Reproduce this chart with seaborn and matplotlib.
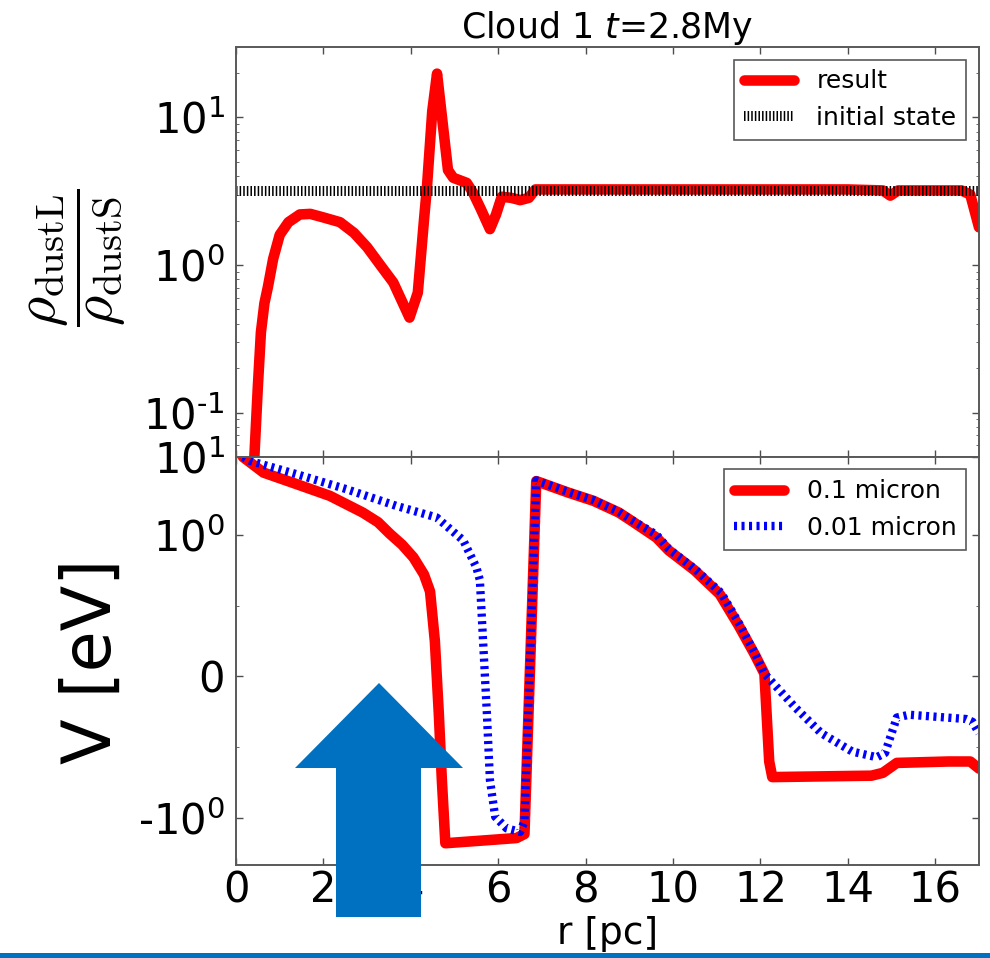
import numpy as np
import pandas as pd
import matplotlib
matplotlib.use("Agg")
import matplotlib.pyplot as plt
import seaborn as sns
from matplotlib.patches import Polygon, Rectangle
from matplotlib.ticker import (FixedLocator, FixedFormatter, LogLocator,
                               NullFormatter)
from matplotlib.mathtext import MathTextParser

# ---- dust ratio profile (top panel) ----
r_ratio = [0.42, 0.5, 0.57, 0.65, 0.73, 0.85, 1.0, 1.2, 1.46, 1.7, 2.0, 2.38,
           2.7, 3.0, 3.3, 3.6, 3.97, 4.16, 4.3, 4.37, 4.49, 4.6, 4.85, 4.97,
           5.28, 5.42, 5.6, 5.81, 5.95, 6.08, 6.3, 6.5, 6.7, 6.85, 8.0, 10.0,
           12.0, 14.0, 14.8, 14.97, 15.15, 16.0, 16.6, 16.8, 17.0]
ratio = [0.05, 0.15, 0.35, 0.55, 0.71, 1.1, 1.6, 1.95, 2.2, 2.22, 2.1, 1.95,
         1.65, 1.32, 1.0, 0.76, 0.44, 0.65, 2.0, 3.4, 11.0, 19.8, 4.4, 3.9,
         3.6, 3.1, 2.4, 1.75, 2.2, 2.9, 2.85, 2.75, 2.85, 3.25, 3.25, 3.25,
         3.25, 3.25, 3.2, 2.95, 3.2, 3.2, 3.2, 3.0, 1.8]
r_init = [0.0, 17.0]
ratio_init = [3.16, 3.16]

# ---- potential profiles (bottom panel) ----
r_large = [0.16, 0.63, 1.39, 2.15, 2.9, 3.25, 3.52, 3.8, 4.06, 4.3, 4.44,
           4.55, 4.64, 4.71, 4.79, 5.58, 6.42, 6.6, 6.87, 7.6, 8.18, 8.76,
           9.05, 9.62, 9.9, 10.49, 11.07, 11.5, 11.86, 12.09, 12.2, 12.27,
           14.54, 14.8, 15.12, 16.3, 16.8, 17.0]
v_large = [10.0, 6.3, 4.47, 3.16, 1.93, 1.45, 1.03, 0.93, 0.84, 0.72, 0.6,
           0.25, -0.26, -0.73, -2.1, -1.95, -1.8, -1.6, 4.9, 3.49, 2.73,
           1.93, 1.51, 0.98, 0.89, 0.75, 0.58, 0.36, 0.16, 0.02, -0.6, -0.71,
           -0.70, -0.68, -0.61, -0.60, -0.6, -0.65]
r_small = [0.16, 0.32, 1.39, 2.53, 3.67, 4.59, 5.2, 5.5, 5.58, 5.66, 5.74,
           5.81, 5.93, 6.19, 6.5, 6.6, 6.87, 7.6, 8.18, 8.76, 9.05, 9.62,
           9.9, 10.49, 11.1, 11.5, 11.86, 12.09, 12.8, 13.39, 14.1, 14.66,
           14.85, 15.12, 15.4, 16.7, 16.85, 17.0]
v_small = [10.0, 8.9, 6.0, 3.85, 2.35, 1.67, 0.96, 0.77, 0.68, 0.21, -0.26,
           -0.73, -0.99, -1.35, -1.5, -1.1, 5.0, 3.55, 2.78, 1.97, 1.55, 1.0,
           0.9, 0.76, 0.59, 0.38, 0.17, 0.02, -0.22, -0.40, -0.53, -0.57,
           -0.54, -0.29, -0.27, -0.30, -0.32, -0.40]

x_ticks = [0, 2, 4, 6, 8, 10, 12, 14, 16]

sns.set_style("ticks")
plt.rcParams.update({
    "font.family": ["DejaVu Sans"],
    "mathtext.fontset": "dejavusans",
    "text.color": "black", "axes.labelcolor": "black",
    "lines.scale_dashes": False,
    "xtick.direction": "in", "ytick.direction": "in",
    "xtick.top": True, "ytick.right": True,
    "xtick.major.size": 5, "ytick.major.size": 5,
    "xtick.minor.size": 2.5, "ytick.minor.size": 2.5,
    "xtick.major.width": 1.0, "ytick.major.width": 1.0,
    "xtick.color": "0.3", "ytick.color": "0.3",
    "xtick.labelcolor": "black", "ytick.labelcolor": "black",
    "axes.edgecolor": "0.35", "axes.linewidth": 1.4,
})

# hyphen-style minus in exponent labels when mathtext supports \text
try:
    MathTextParser("agg").parse(r"$\text{-}$", dpi=100)
    MINUS = r"\text{-}"
except Exception:
    MINUS = "-"

RED = "#ff0000"
BLUE = "#0000ff"

fig = plt.figure(figsize=(9.9, 9.58), dpi=100)
ax1 = fig.add_axes([236 / 990, 1 - 457 / 958, 743 / 990, 410 / 958])
ax2 = fig.add_axes([236 / 990, 1 - 865 / 958, 743 / 990, 408 / 958])

# ---- top panel ----
df_ratio = pd.DataFrame({"r": r_ratio, "ratio": ratio})
df_init = pd.DataFrame({"r": r_init, "ratio": ratio_init})
sns.lineplot(data=df_ratio, x="r", y="ratio", ax=ax1, color=RED,
             linewidth=7.6, label="result", sort=False, estimator=None)
sns.lineplot(data=df_init, x="r", y="ratio", ax=ax1, color="black",
             linewidth=7.2, label="initial state", sort=False, estimator=None)
ax1.lines[-1].set_dashes((1.1, 1.5))
ax1.set_yscale("log")
ax1.set_ylim(0.05, 30)
ax1.set_xlim(0, 17)
ax1.yaxis.set_major_locator(FixedLocator([0.1, 1, 10]))
ax1.yaxis.set_major_formatter(FixedFormatter([
    r"$\mathdefault{10^{%s1}}$" % MINUS,
    r"$\mathdefault{10^{0}}$",
    r"$\mathdefault{10^{1}}$"]))
ax1.yaxis.set_minor_locator(LogLocator(base=10, subs=np.arange(2, 10)))
ax1.yaxis.set_minor_formatter(NullFormatter())
ax1.xaxis.set_major_locator(FixedLocator(x_ticks))
ax1.tick_params(axis="x", labelbottom=False)
ax1.tick_params(axis="y", labelsize=30, pad=8)
ax1.set_xlabel("")
ax1.set_ylabel(r"$\dfrac{\rho_{\rm dustL}}{\rho_{\rm dustS}}$", fontsize=42,
               math_fontfamily="cm")
ax1.yaxis.set_label_coords(-0.145, 0.485)
ax1.set_title(r"Cloud 1 $t$=2.8My", fontsize=25, pad=1, color="black")
leg1 = ax1.legend(loc="upper right", fontsize=18, fancybox=False,
                  edgecolor="0.35", framealpha=1, handletextpad=0.9)
leg1.get_frame().set_linewidth(1.2)

# ---- bottom panel ----
df_large = pd.DataFrame({"r": r_large, "V": v_large})
df_small = pd.DataFrame({"r": r_small, "V": v_small})
sns.lineplot(data=df_large, x="r", y="V", ax=ax2, color=RED, linewidth=7.6,
             label="0.1 micron", sort=False, estimator=None)
sns.lineplot(data=df_small, x="r", y="V", ax=ax2, color=BLUE, linewidth=6.0,
             label="0.01 micron", sort=False, estimator=None)
ax2.lines[-1].set_dashes((2.2, 3.2))
ax2.set_yscale("symlog", linthresh=1.0, linscale=1.64)
ax2.set_ylim(-4.0, 10.0)
ax2.set_xlim(0, 17)
ax2.yaxis.set_major_locator(FixedLocator([-1, 0, 1, 10]))
ax2.yaxis.set_major_formatter(FixedFormatter([
    r"$\mathdefault{%s10^{0}}$" % MINUS, "0",
    r"$\mathdefault{10^{0}}$", r"$\mathdefault{10^{1}}$"]))
ax2.yaxis.set_minor_locator(FixedLocator([-0.5, 0.5]))
ax2.yaxis.set_minor_formatter(NullFormatter())
ax2.xaxis.set_major_locator(FixedLocator(x_ticks))
ax2.tick_params(axis="both", labelsize=30)
ax2.tick_params(axis="y", pad=8)
ax2.tick_params(axis="x", pad=3)
ax2.set_xlabel("r [pc]", fontsize=27)
ax2.xaxis.set_label_coords(0.5, -0.125)
ax2.set_ylabel("V [eV]", fontsize=48)
ax2.yaxis.set_label_coords(-0.15, 0.5)
leg2 = ax2.legend(loc="upper right", fontsize=18, fancybox=False,
                  edgecolor="0.35", framealpha=1, handletextpad=0.9)
leg2.get_frame().set_linewidth(1.2)

# ---- annotation arrow and bottom rule ----
W, H = 990.0, 958.0
arrow_px = [(379, 683), (463, 768), (421, 768), (421, 917),
            (336, 917), (336, 768), (295, 768)]
arrow = Polygon([(x / W, 1 - y / H) for x, y in arrow_px], closed=True,
                transform=fig.transFigure, facecolor="#0070C0",
                edgecolor="none", zorder=20)
fig.add_artist(arrow)
fig.add_artist(Rectangle((0, 0), 1, 5 / H, transform=fig.transFigure,
                         facecolor="#0070C0", edgecolor="none", zorder=20))

fig.savefig("out.png", dpi=100)
